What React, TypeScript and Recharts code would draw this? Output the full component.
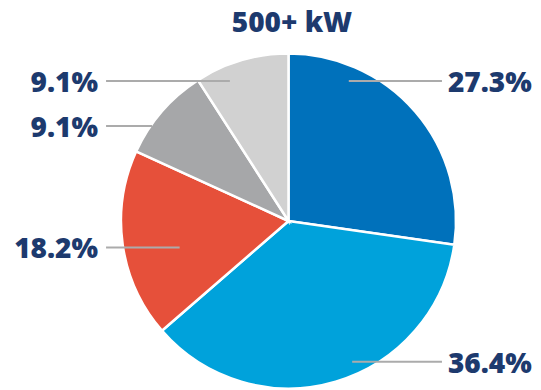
import { Cell, Pie, PieChart } from "recharts";

const segments = ["Segment 1", "Segment 2", "Segment 3", "Segment 4", "Segment 5"];
const shares = [27.3, 36.4, 18.2, 9.1, 9.1];
const sliceColors = ["#0071BB", "#00A2DB", "#E6503A", "#A6A7A9", "#D1D1D1"];

// label rows, relative to the pie radius
const labelRowY = [-0.836, 0.84, 0.158, -0.567, -0.836];
const lineStartX = [0.36, 0.38, -0.65, -0.815, -0.35];

const data = segments.map((name, i) => ({ name, value: shares[i] }));

const NAVY = "#1D3A6E";
const RAD = Math.PI / 180;

function SliceLabel(props: any) {
  const { cx, cy, outerRadius, midAngle, index, value } = props;
  const right = Math.cos(-midAngle * RAD) >= 0;
  const y = cy + outerRadius * labelRowY[index];
  const x1 = cx + outerRadius * lineStartX[index];
  const textX = right ? cx + outerRadius * 0.952 : cx - outerRadius * 1.137;
  const x2 = right ? textX - 6 : textX + 8;
  return <g>
    <line x1={x1} y1={y} x2={x2} y2={y} stroke="#ABABAB" strokeWidth={2} />
    <text x={textX} y={y} dy={11} textAnchor={right ? "start" : "end"}
      fill={NAVY} fontFamily="'Open Sans', sans-serif" fontWeight={800} fontSize={28}>
      {value.toFixed(1)}%
    </text>
  </g>;
}

export default function App() {
  return <div style={{ position: "absolute", left: 0, top: 0, width: 541, height: 390, background: "#fff" }}>
    <div style={{ position: "absolute", left: 0, top: 3, width: 584, textAlign: "center", color: NAVY,
      fontFamily: "'Open Sans', sans-serif", fontWeight: 800, fontSize: 28, lineHeight: "36px" }}>
      500+ kW
    </div>
    <PieChart width={541} height={390} margin={{ top: 0, right: 0, bottom: 0, left: 0 }}>
      <Pie data={data} dataKey="value" cx={288.5} cy={221} outerRadius={167.5} startAngle={90} endAngle={-270}
        stroke="#fff" strokeWidth={2.5} label={SliceLabel} labelLine={false} isAnimationActive={false}>
        {data.map((d, i) => <Cell key={d.name} fill={sliceColors[i]} />)}
      </Pie>
    </PieChart>
  </div>;
}
